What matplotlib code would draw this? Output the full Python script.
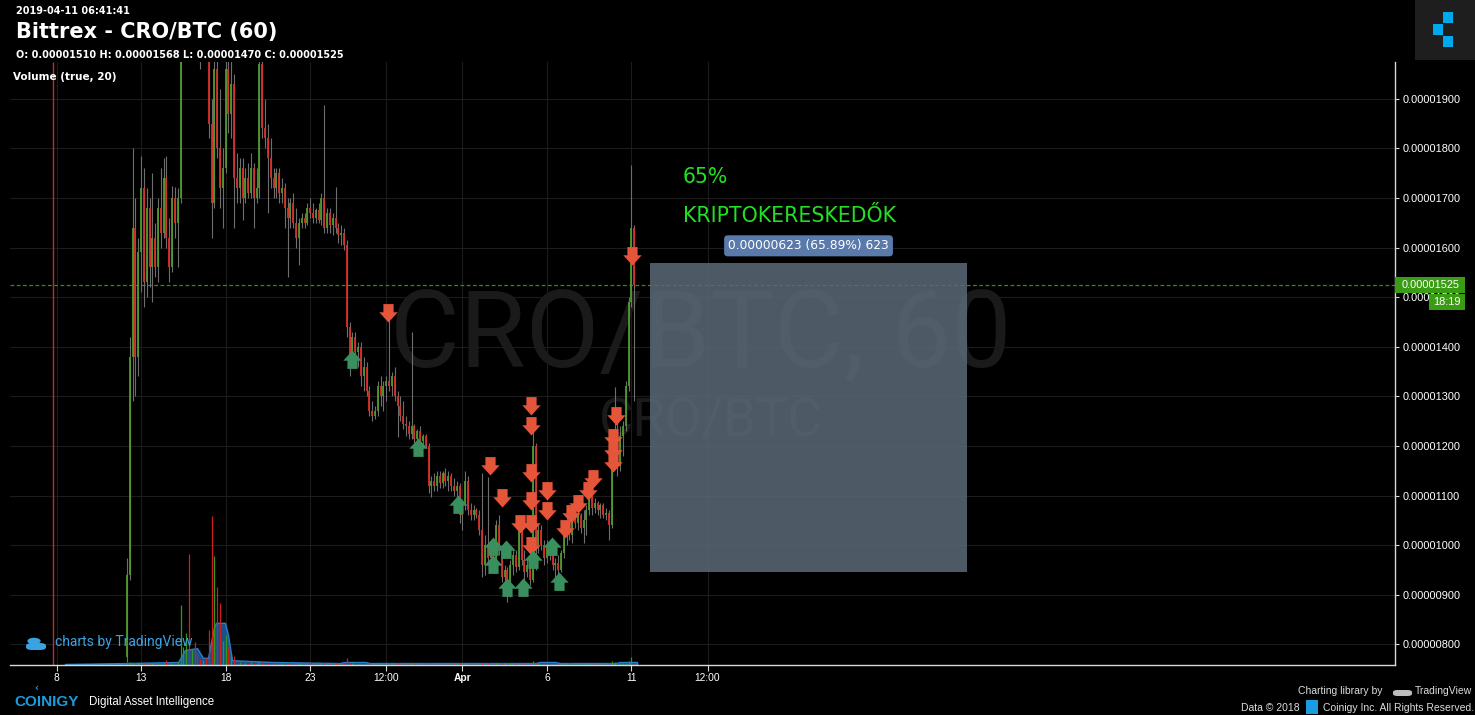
import numpy as np
import matplotlib
matplotlib.use("Agg")
import matplotlib.pyplot as plt
from matplotlib.path import Path
from matplotlib.markers import MarkerStyle
from matplotlib.patches import Rectangle, FancyBboxPatch, Circle
import matplotlib.transforms as mtransforms
from matplotlib.ticker import FuncFormatter

# ---------------- data (prices in satoshi = 1e-8 BTC, time in days after 8 Mar 2019 00:00) -------------
first_candle_day = 4 + 4 / 24      # 12 Mar 04:00
candle_step_days = 4 / 24          # 4-hour candles

opens = [775, 940, 1380, 1640, 1380, 1590, 1720, 1530, 1680, 1560,
         1620, 1560, 1680, 1630, 1740, 1620, 1560, 1700, 1650, 1700,
         2100, 2200, 2280, 2150, 2250, 2200, 2150, 2050, 2100, 2050,
         1850, 1690, 1960, 1800, 1720, 1760, 1960, 1870, 1930, 1740,
         1720, 1760, 1700, 1740, 1710, 1760, 1700, 1720, 1970, 1840,
         1820, 1780, 1740, 1720, 1750, 1710, 1720, 1680, 1660, 1690,
         1650, 1620, 1650, 1660, 1650, 1680, 1670, 1660, 1675, 1655,
         1700, 1640, 1670, 1645, 1660, 1640, 1625, 1630, 1605, 1440,
         1380, 1420, 1390, 1400, 1340, 1360, 1310, 1270, 1260, 1270,
         1320, 1300, 1320, 1330, 1320, 1340, 1300, 1280, 1260, 1245,
         1240, 1225, 1240, 1215, 1230, 1210, 1220, 1200, 1120, 1130,
         1120, 1140, 1125, 1145, 1130, 1140, 1120, 1110, 1120, 1060,
         1080, 1130, 1070, 1060, 1070, 1060, 1030, 960, 1000, 975,
         995, 965, 1040, 990, 935, 950, 905, 960, 980, 955,
         1030, 970, 945, 960, 930, 1200, 1000, 1030, 1000, 975,
         1000, 980, 960, 965, 950, 985, 1030, 1045, 1020, 1060,
         1045, 1060, 1035, 1050, 1070, 1100, 1075, 1085, 1070, 1080,
         1060, 1065, 1040, 1190, 1230, 1160, 1220, 1240, 1320, 1490,
         1640]
highs = [975, 1420, 1800, 1700, 1620, 1785, 1760, 1720, 1700, 1750,
         1650, 1700, 1760, 1780, 1785, 1660, 1725, 1722, 1720, 2150,
         2250, 2320, 2350, 2300, 2380, 2300, 2200, 2150, 2200, 2100,
         1900, 1990, 1990, 1920, 1800, 1990, 1990, 1990, 1950, 1790,
         1780, 1780, 1760, 1770, 1790, 1770, 1760, 1990, 1990, 1900,
         1850, 1820, 1760, 1760, 1760, 1740, 1730, 1700, 1700, 1710,
         1680, 1660, 1670, 1670, 1690, 1700, 1690, 1680, 1690, 1710,
         1887, 1680, 1680, 1670, 1722, 1650, 1645, 1640, 1615, 1450,
         1430, 1430, 1410, 1410, 1380, 1370, 1320, 1290, 1280, 1330,
         1340, 1330, 1340, 1454, 1350, 1360, 1310, 1300, 1290, 1260,
         1250, 1430, 1245, 1235, 1240, 1225, 1225, 1205, 1140, 1145,
         1150, 1150, 1150, 1155, 1150, 1145, 1135, 1130, 1125, 1090,
         1150, 1140, 1085, 1080, 1075, 1070, 1145, 1020, 1137, 1005,
         1000, 1050, 1060, 1000, 960, 955, 970, 990, 990, 1044,
         1040, 990, 975, 980, 1250, 1205, 1044, 1040, 1010, 1010,
         1010, 990, 975, 980, 990, 1040, 1057, 1071, 1070, 1075,
         1070, 1065, 1070, 1080, 1137, 1110, 1095, 1090, 1085, 1085,
         1075, 1070, 1200, 1319, 1250, 1240, 1250, 1330, 1500, 1766,
         1645]
lows = [765, 930, 1290, 1300, 1340, 1510, 1480, 1500, 1520, 1490,
        1540, 1530, 1600, 1620, 1600, 1530, 1550, 1620, 1560, 1690,
        2050, 2150, 2120, 2100, 2180, 2080, 1960, 1990, 2000, 1820,
        1620, 1680, 1780, 1680, 1640, 1750, 1830, 1820, 1640, 1690,
        1690, 1655, 1690, 1700, 1700, 1640, 1690, 1700, 1820, 1800,
        1670, 1720, 1700, 1700, 1690, 1690, 1640, 1540, 1640, 1640,
        1600, 1565, 1640, 1640, 1645, 1660, 1650, 1650, 1650, 1645,
        1630, 1630, 1630, 1625, 1630, 1610, 1605, 1595, 1420, 1340,
        1370, 1370, 1360, 1320, 1310, 1300, 1260, 1250, 1255, 1260,
        1280, 1270, 1290, 1310, 1300, 1290, 1218, 1250, 1235, 1220,
        1215, 1215, 1205, 1205, 1200, 1195, 1195, 1105, 1097, 1110,
        1110, 1115, 1115, 1120, 1110, 1110, 1100, 1095, 1044, 1030,
        1070, 1060, 1050, 1050, 1055, 1020, 936, 940, 960, 950,
        955, 955, 980, 925, 900, 885, 895, 940, 945, 950,
        960, 930, 935, 920, 925, 950, 985, 990, 960, 965,
        970, 950, 930, 935, 945, 975, 1000, 1010, 1005, 1035,
        1030, 1025, 1004, 1020, 1060, 1060, 1065, 1060, 1055, 1055,
        1050, 1010, 1035, 1160, 1140, 1150, 1180, 1230, 1310, 1480,
        1290]
closes = [940, 1380, 1640, 1380, 1590, 1720, 1530, 1680, 1560, 1620,
          1560, 1680, 1630, 1740, 1620, 1560, 1700, 1650, 1700, 2100,
          2200, 2280, 2150, 2250, 2200, 2150, 2050, 2100, 2050, 1850,
          1690, 1960, 1800, 1720, 1760, 1960, 1870, 1930, 1740, 1720,
          1760, 1700, 1740, 1710, 1760, 1700, 1720, 1970, 1840, 1820,
          1780, 1740, 1720, 1750, 1710, 1720, 1680, 1660, 1690, 1650,
          1620, 1650, 1660, 1650, 1680, 1670, 1660, 1675, 1655, 1700,
          1640, 1670, 1645, 1660, 1640, 1625, 1630, 1605, 1440, 1380,
          1420, 1390, 1400, 1340, 1360, 1310, 1270, 1260, 1270, 1320,
          1300, 1320, 1330, 1320, 1340, 1300, 1280, 1260, 1245, 1240,
          1225, 1240, 1215, 1230, 1210, 1220, 1200, 1120, 1130, 1120,
          1140, 1125, 1145, 1130, 1140, 1120, 1110, 1120, 1060, 1080,
          1130, 1070, 1060, 1070, 1060, 1030, 960, 1000, 975, 995,
          965, 1040, 990, 935, 950, 905, 960, 980, 955, 1030,
          970, 945, 960, 930, 1200, 1000, 1030, 1000, 975, 1000,
          980, 960, 965, 950, 985, 1030, 1045, 1020, 1060, 1045,
          1060, 1035, 1050, 1070, 1100, 1075, 1085, 1070, 1080, 1060,
          1065, 1040, 1190, 1230, 1160, 1220, 1240, 1320, 1490, 1640,
          1525]
volumes = [0.03, 0.05, 0.04, 0.03, 0.03, 0.02, 0.03, 0.02, 0.02, 0.03,
           0.02, 0.02, 0.03, 0.02, 0.08, 0.03, 0.04, 0.03, 0.05, 1.00,
           0.30, 0.53, 1.84, 0.25, 0.38, 0.20, 0.10, 0.08, 0.12, 0.58,
           2.47, 1.80, 1.30, 1.03, 0.40, 0.50, 0.30, 0.20, 0.15, 0.04,
           0.05, 0.03, 0.04, 0.03, 0.05, 0.03, 0.04, 0.06, 0.05, 0.04,
           0.03, 0.02, 0.03, 0.02, 0.02, 0.03, 0.02, 0.03, 0.02, 0.02,
           0.02, 0.03, 0.02, 0.02, 0.02, 0.03, 0.02, 0.02, 0.02, 0.03,
           0.04, 0.02, 0.02, 0.02, 0.03, 0.02, 0.02, 0.03, 0.12, 0.04,
           0.03, 0.02, 0.02, 0.03, 0.02, 0.02, 0.03, 0.02, 0.02, 0.02,
           0.02, 0.02, 0.02, 0.04, 0.02, 0.02, 0.03, 0.02, 0.02, 0.02,
           0.02, 0.03, 0.02, 0.02, 0.02, 0.02, 0.02, 0.04, 0.02, 0.02,
           0.02, 0.02, 0.02, 0.02, 0.02, 0.02, 0.02, 0.02, 0.03, 0.02,
           0.03, 0.02, 0.02, 0.02, 0.02, 0.02, 0.04, 0.03, 0.03, 0.02,
           0.02, 0.03, 0.02, 0.03, 0.03, 0.04, 0.03, 0.02, 0.02, 0.03,
           0.02, 0.02, 0.02, 0.02, 0.07, 0.04, 0.03, 0.02, 0.02, 0.02,
           0.02, 0.02, 0.02, 0.02, 0.02, 0.03, 0.02, 0.03, 0.02, 0.02,
           0.02, 0.02, 0.02, 0.02, 0.03, 0.02, 0.02, 0.02, 0.02, 0.02,
           0.02, 0.03, 0.06, 0.05, 0.03, 0.03, 0.03, 0.04, 0.06, 0.13,
           0.04]
listing_day = -0.21
listing_volume = 14.0
ma_days = [0.50, 4.17, 7.19, 7.60, 8.31, 8.66, 8.96, 9.31, 9.43, 9.96, 10.14, 10.38,
           12.74, 16.76, 17.06, 18.24, 18.54, 28.30, 28.59, 29.48, 29.78, 33.03, 33.33, 34.33]
ma_values = [0.017, 0.033, 0.05, 0.25, 0.28, 0.12, 0.12, 0.63, 0.70, 0.70, 0.50, 0.08,
             0.05, 0.033, 0.05, 0.05, 0.033, 0.033, 0.05, 0.05, 0.033, 0.033, 0.05, 0.05]
last_price = 1525
sell_days = [19.60, 25.64, 26.34, 27.41, 28.06, 28.06, 28.06, 28.06, 28.06, 28.06, 29.01, 29.01,
             30.07, 30.43, 30.84, 31.43, 31.73, 32.91, 32.91, 32.91, 33.09, 34.03]
sell_prices = [1450, 1141, 1077, 1024, 1262, 1222, 1127, 1071, 1024, 980, 1091, 1051,
               1014, 1044, 1065, 1091, 1115, 1198, 1172, 1147, 1242, 1564]
buy_days = [17.47, 21.38, 23.74, 25.81, 25.81, 26.58, 26.64, 27.59, 28.18, 29.30, 29.72]
buy_prices = [1393, 1216, 1101, 1016, 980, 1010, 934, 934, 990, 1016, 946]
range_start_day, range_end_day = 35.10, 53.84
range_low, range_high = 946, 1569
range_label = "0.00000623 (65.89%) 623"
note_day = 37.05
note_prices = [1742, 1663]
note_texts = ["65%", "KRIPTOKERESKEDŐK"]
x_tick_days = [0, 5, 10, 15, 19.5, 24, 29, 34, 38.5]
x_tick_labels = ["8", "13", "18", "23", "12:00", "Apr", "6", "11", "12:00"]
y_ticks = [800, 900, 1000, 1100, 1200, 1300, 1400, 1500, 1600, 1700, 1800, 1900]

# ---------------- figure ----------------
W, H = 1475, 715
fig = plt.figure(figsize=(W / 100, H / 100), dpi=100, facecolor="black")
plt.rcParams["font.family"] = ["DejaVu Sans"]


def fx(x):
    return x / W


def fy(y):
    return 1 - y / H


ax = fig.add_axes([fx(10), 50 / H, 1385 / W, 603 / H])
ax.set_facecolor("black")
ax.set_xlim(-2.75, 79.15)
ax.set_ylim(758.4, 1974)

RED, GREEN, WICK = "#d92e2a", "#4f9a2a", "#6e6e6e"

o = np.array(opens, float)
h = np.array(highs, float)
l = np.array(lows, float)
c = np.array(closes, float)
n = len(o)
days = first_candle_day + np.arange(n) * candle_step_days
up = c >= o

# grid
ax.set_xticks(x_tick_days)
ax.set_xticklabels(x_tick_labels)
ax.set_yticks(y_ticks)
ax.yaxis.set_major_formatter(FuncFormatter(lambda v, p: f"{v / 1e8:.8f}"))
ax.grid(True, color="#1c1c1c", lw=0.8, zorder=0)
ax.set_axisbelow(True)

# watermark
ax.text(0.499, 0.545, "CRO/BTC, 60", transform=ax.transAxes, fontsize=77,
        color="#1a1a1a", ha="center", va="center", family=["Roboto", "DejaVu Sans"],
        weight="normal", zorder=1)
ax.text(0.506, 0.403, "CRO/BTC", transform=ax.transAxes, fontsize=38,
        color="#1a1a1a", ha="center", va="center", family=["Roboto", "DejaVu Sans"],
        weight="normal", zorder=1)

# volume pane (overlay, own scale)
VOL_FULL = 10.0
vtrans = mtransforms.blended_transform_factory(ax.transData, ax.transAxes)
v = np.array(volumes)
ax.fill_between(ma_days, 0, np.array(ma_values) / VOL_FULL, transform=vtrans,
                facecolor="#1a5c9c", edgecolor="#2b88d8", lw=1.0, alpha=0.9, zorder=2)
ax.vlines(days[up], 0, v[up] / VOL_FULL, transform=vtrans, colors="#2f9a1e", lw=0.9, zorder=2.5)
ax.vlines(days[~up], 0, v[~up] / VOL_FULL, transform=vtrans, colors="#d01d1d", lw=0.9, zorder=2.5)
ax.vlines([listing_day], 0, [min(listing_volume / VOL_FULL, 1.0)], transform=vtrans,
          colors="#c62a2a", lw=1.0, zorder=2.5)

# last price line
ax.axhline(last_price, color="#3a8c16", lw=0.9, ls=(0, (3, 2)), zorder=2)

# candles
ax.vlines(days, l, h, colors=WICK, lw=0.8, zorder=3)
blo = np.minimum(o, c)
bhi = np.maximum(o, c)
small = (bhi - blo) < 4
blo = np.where(small, blo - 2, blo)
bhi = np.where(small, bhi + 2, bhi)
ax.vlines(days[up], blo[up], bhi[up], colors=GREEN, lw=1.3, zorder=4)
ax.vlines(days[~up], blo[~up], bhi[~up], colors=RED, lw=1.3, zorder=4)

# trade arrows (tip at the price)
down_verts = [(0, 0), (9, 10), (5, 10), (5, 18), (-5, 18), (-5, 10), (-9, 10), (0, 0)]
codes = [Path.MOVETO] + [Path.LINETO] * 6 + [Path.CLOSEPOLY]
down_path = Path(down_verts, codes)
up_path = Path([(x, -y) for x, y in down_verts], codes)
ax.plot(sell_days, sell_prices, ls="none", marker=MarkerStyle(down_path), ms=26.5,
        mfc="#e4553a", mec="none", zorder=6)
ax.plot(buy_days, buy_prices, ls="none", marker=MarkerStyle(up_path), ms=26.5,
        mfc="#3a8f5e", mec="none", zorder=6)

# price range box
ax.add_patch(Rectangle((range_start_day, range_low), range_end_day - range_start_day,
                       range_high - range_low, facecolor="#5b6978", alpha=0.85,
                       edgecolor="none", zorder=5))
ax.annotate(range_label, xy=((range_start_day + range_end_day) / 2, range_high),
            xytext=(0, 12.3), textcoords="offset points", ha="center", va="center",
            color="white", fontsize=8.8, zorder=7,
            bbox=dict(boxstyle="round,pad=0.33,rounding_size=0.3", fc="#5a7aab", ec="none"))

# green notes
for t, p in zip(note_texts, note_prices):
    ax.text(note_day, p, t, color="#22e022", fontsize=14.8, ha="left", va="center", zorder=7)

# axes styling
for s in ["left", "top"]:
    ax.spines[s].set_visible(False)
for s in ["right", "bottom"]:
    ax.spines[s].set_color("#d8d8d8")
    ax.spines[s].set_linewidth(1.0)
ax.yaxis.tick_right()
ax.tick_params(axis="y", colors="#d8d8d8", labelcolor="white", length=3, width=0.8,
               pad=2.5, labelsize=7.9, labelfontfamily="Liberation Sans")
ax.tick_params(axis="x", colors="#d8d8d8", labelcolor="white", length=4, width=0.8,
               pad=2, labelsize=7.4, labelfontfamily="Liberation Sans")
ax.get_xticklabels()[5].set_fontweight("bold")

# last price labels on the axis
fig.canvas.draw()
yd = ax.transData.transform((0, last_price))[1]
ypx = H - yd
fig.patches.append(Rectangle((fx(1395), fy(ypx + 8)), 70 / W, 16 / H, transform=fig.transFigure,
                             facecolor="#3a9c14", edgecolor="none", zorder=5))
fig.text(fx(1402), fy(ypx), f"{last_price / 1e8:.8f}", color="white", fontsize=7.9,
         family="Liberation Sans", va="center", ha="left", zorder=6)
fig.patches.append(Rectangle((fx(1429), fy(ypx + 25)), 36 / W, 16 / H, transform=fig.transFigure,
                             facecolor="#3a9c14", edgecolor="none", zorder=5))
fig.text(fx(1447), fy(ypx + 17), "18:19", color="white", fontsize=7.9,
         family="Liberation Sans", va="center", ha="center", zorder=6)

# header texts
fig.text(fx(16), fy(11), "2019-04-11 06:41:41", color="white", fontsize=7, weight="bold", va="center")
fig.text(fx(16), fy(32), "Bittrex - CRO/BTC (60)", color="white", fontsize=15, weight="bold", va="center")
fig.text(fx(16), fy(55), "O: 0.00001510 H: 0.00001568 L: 0.00001470 C: 0.00001525",
         color="white", fontsize=7, weight="bold", va="center")
fig.text(fx(13), fy(77), "Volume (true, 20)", color="white", fontsize=7.5, weight="bold", va="center")

# top-right logo
fig.patches.append(Rectangle((fx(1415), fy(60)), 60 / W, 60 / H, transform=fig.transFigure,
                             facecolor="#1e1e1e", edgecolor="none"))
for (x0, y0) in [(1443, 12), (1433, 24), (1443, 36)]:
    fig.patches.append(Rectangle((fx(x0), fy(y0 + 11)), 10 / W, 11 / H, transform=fig.transFigure,
                                 facecolor="#00a8ec", edgecolor="none"))

# "charts by TradingView"
fig.patches.append(FancyBboxPatch((fx(26), fy(650)), 20 / W, 7 / H, transform=fig.transFigure,
                                  boxstyle="round,pad=0,rounding_size=0.004",
                                  facecolor="#3aa3e3", edgecolor="none"))
fig.patches.append(Circle((fx(34), fy(641)), 0.0045, transform=fig.transFigure,
                          facecolor="#3aa3e3", edgecolor="none"))
fig.text(fx(55), fy(642), "charts by TradingView", color="#3aa3e3", fontsize=10,
         family=["Roboto", "DejaVu Sans"], va="center")

# bottom left branding
fig.text(fx(14), fy(702), "COINIGY", color="#1b9be0", fontsize=11, weight="bold",
         family="Liberation Sans", va="center")
fig.text(fx(34), fy(688), "‹", color="#1b9be0", fontsize=7, weight="bold", va="center")
fig.text(fx(89), fy(702), "Digital Asset Intelligence", color="white", fontsize=8.3,
         family="Liberation Sans", va="center")

# bottom right credits
fig.text(fx(1383), fy(691), "Charting library by", color="#dddddd", fontsize=7.5,
         family="Liberation Sans", va="center", ha="right")
fig.patches.append(FancyBboxPatch((fx(1393), fy(696)), 19 / W, 6 / H, transform=fig.transFigure,
                                  boxstyle="round,pad=0,rounding_size=0.003",
                                  facecolor="#bdbdbd", edgecolor="none"))
fig.text(fx(1415), fy(691), "TradingView", color="#dddddd", fontsize=7.5,
         family="Liberation Sans", va="center", ha="left")
fig.text(fx(1300), fy(708), "Data © 2018", color="#dddddd", fontsize=7.5,
         family="Liberation Sans", va="center", ha="right")
fig.patches.append(Rectangle((fx(1306), fy(714)), 12 / W, 14 / H, transform=fig.transFigure,
                             facecolor="#1b9be0", edgecolor="none"))
fig.text(fx(1323), fy(708), "Coinigy Inc. All Rights Reserved.", color="#dddddd", fontsize=7.5,
         family="Liberation Sans", va="center", ha="left")

fig.savefig("out.png", dpi=100, facecolor="black")
